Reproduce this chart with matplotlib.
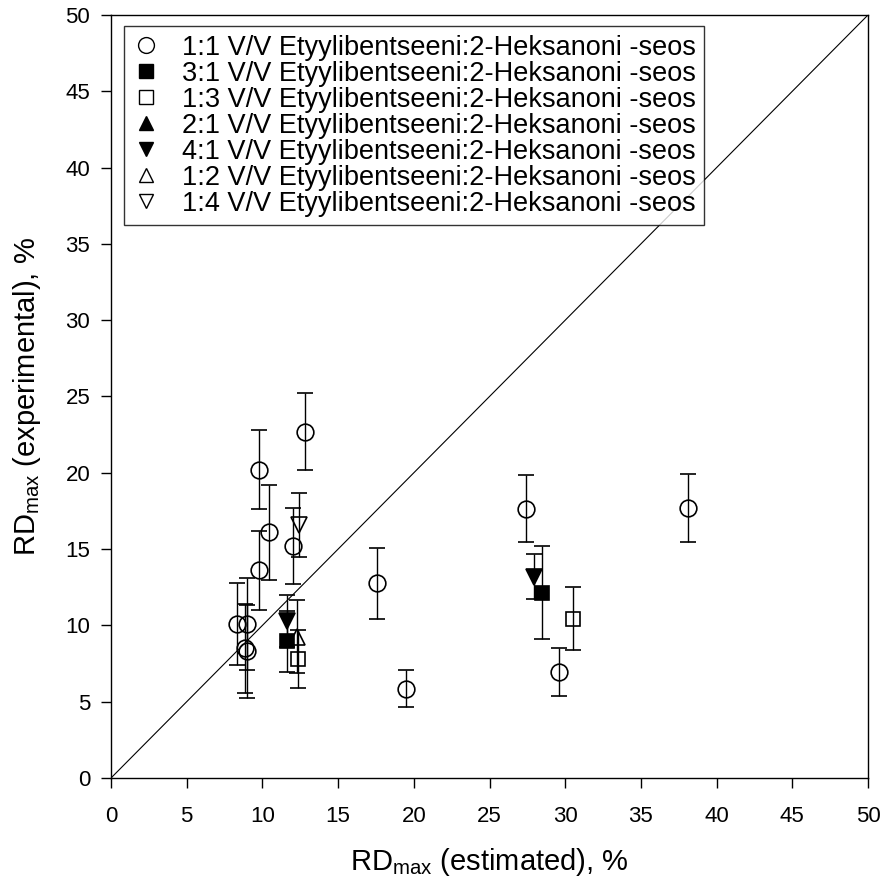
import numpy as np
import matplotlib.pyplot as plt
from matplotlib.lines import Line2D

plt.rcParams["font.family"] = ["Liberation Sans", "DejaVu Sans"]
plt.rcParams["mathtext.fontset"] = "custom"
plt.rcParams["mathtext.rm"] = "Liberation Sans"

# 1:1 mixture (open circles)
x_11 = [12.8, 9.8, 10.45, 9.8, 12.0, 8.3, 9.0, 8.85, 9.0, 17.6, 19.5, 27.4, 29.6, 38.1]
y_11 = [22.7, 20.2, 16.1, 13.6, 15.2, 10.1, 10.1, 8.5, 8.3, 12.75, 5.85, 17.65, 6.95, 17.7]
e_11 = [2.5, 2.6, 3.1, 2.6, 2.5, 2.7, 3.0, 2.9, 3.05, 2.35, 1.2, 2.2, 1.55, 2.25]

# 3:1 mixture (filled squares)
x_31 = [11.6, 28.45]
y_31 = [8.95, 12.15]
e_31 = [2.0, 3.05]

# 1:3 mixture (open squares)
x_13 = [12.35, 30.5]
y_13 = [7.8, 10.45]
e_13 = [1.9, 2.05]

# 2:1 mixture (filled up triangles) - not visible in plot
x_21 = []
y_21 = []
e_21 = []

# 4:1 mixture (filled down triangles)
x_41 = [11.6, 27.95]
y_41 = [10.3, 13.2]
e_41 = [1.7, 1.5]

# 1:2 mixture (open up triangles)
x_12 = [12.3]
y_12 = [9.25]
e_12 = [2.4]

# 1:4 mixture (open down triangles)
x_14 = [12.4]
y_14 = [16.6]
e_14 = [2.1]

labels = ["1:1", "3:1", "1:3", "2:1", "4:1", "1:2", "1:4"]
series = [(x_11, y_11, e_11), (x_31, y_31, e_31), (x_13, y_13, e_13),
          (x_21, y_21, e_21), (x_41, y_41, e_41), (x_12, y_12, e_12),
          (x_14, y_14, e_14)]
markers = ["o", "s", "s", "^", "v", "^", "v"]
filled = [False, True, False, True, True, False, False]
msizes = [12, 10, 10, 11, 11, 11, 11]

fig = plt.figure(figsize=(8.91, 8.86), dpi=100)
ax = fig.add_axes([0.1246, 0.1219, 0.8496, 0.8612])

ax.plot([0, 50], [0, 50], color="black", lw=0.8, zorder=1)

handles = []
for (xs, ys, es), m, f, ms, lab in zip(series, markers, filled, msizes, labels):
    if len(xs):
        ax.errorbar(xs, ys, yerr=es, fmt=m, ms=ms, mfc="black" if f else "none",
                    mec="black", mew=1.2, ecolor="black", elinewidth=1.0,
                    capsize=6, capthick=1.0, zorder=3)
    handles.append(Line2D([], [], ls="none", marker=m, ms=ms * 0.95,
                          mfc="black" if f else "white", mec="black", mew=1.0,
                          label=f"{lab} V/V Etyylibentseeni:2-Heksanoni -seos"))

ax.set_xlim(0, 50)
ax.set_ylim(0, 50)
ax.set_xticks(np.arange(0, 51, 5))
ax.set_yticks(np.arange(0, 51, 5))
ax.tick_params(direction="out", length=7, width=1, labelsize=16, pad=8)
ax.tick_params(axis="x", pad=13)
for s in ax.spines.values():
    s.set_linewidth(1.0)

ax.set_xlabel(r"RD$_\mathregular{max}$ (estimated), %", fontsize=21, labelpad=14)
ax.set_ylabel(r"RD$_\mathregular{max}$ (experimental), %", fontsize=21, labelpad=16)

leg = ax.legend(handles=handles, loc="upper left", bbox_to_anchor=(0.017, 0.985),
                fontsize=19.5, frameon=True, fancybox=False, edgecolor="black",
                handlelength=1.0, handletextpad=0.85, labelspacing=0.0,
                borderpad=0.3, borderaxespad=0)
leg.get_frame().set_linewidth(1.0)

fig.savefig("out.png", dpi=100)
